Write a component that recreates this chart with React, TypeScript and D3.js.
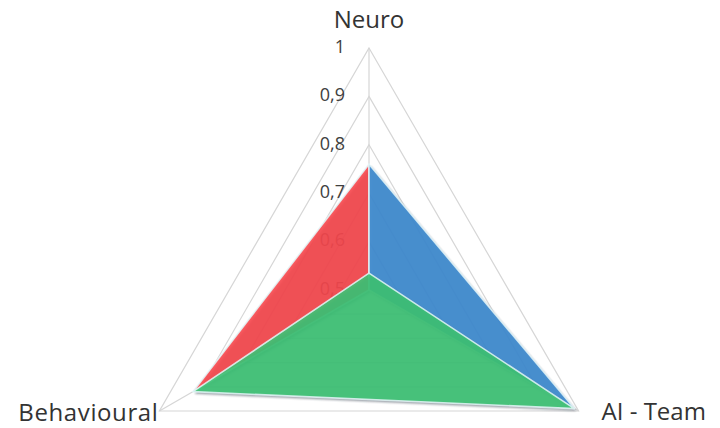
import React from "react";
import * as d3 from "d3";

const AXES = ["Neuro", "AI - Team", "Behavioural"];
const TICKS = [0.5, 0.6, 0.7, 0.8, 0.9, 1];
const TICK_LABELS = ["0,5", "0,6", "0,7", "0,8", "0,9", "1"];
const SERIES_NAMES = ["Series 1", "Series 2", "Series 3"];
const RED_VALUES = [0.76, 0.5, 0.92];
const BLUE_VALUES = [0.76, 0.99, 0.5];
const GREEN_VALUES = [0.535, 0.99, 0.92];
const SERIES_VALUES = [RED_VALUES, BLUE_VALUES, GREEN_VALUES];
const SERIES_COLORS = ["#f8474c", "#3e8cd1", "#3ec476"];

const W = 720;
const H = 428;
const CX = 369;
const CY = 290;
const R = 242;

export default function App() {
  const r = d3.scaleLinear().domain([0.5, 1]).range([0, R]);
  const angle = d3
    .scalePoint<string>()
    .domain(AXES)
    .range([0, (2 * Math.PI * (AXES.length - 1)) / AXES.length]);

  const radial = d3
    .lineRadial<number>()
    .angle((_, i) => angle(AXES[i]) as number)
    .radius((d) => r(Math.max(0.5, d)))
    .curve(d3.curveLinearClosed);

  const pt = (a: number, rad: number) => [
    CX + rad * Math.sin(a),
    CY - rad * Math.cos(a),
  ];

  const font = "'Open Sans', 'Noto Sans', sans-serif";

  return (
    <svg
      width={W}
      height={H}
      style={{ position: "absolute", left: 0, top: 0, background: "#fff" }}
    >
      <defs>
        <filter id="shadow" x="-20%" y="-20%" width="140%" height="140%">
          <feGaussianBlur stdDeviation="1.3" />
        </filter>
      </defs>
      <rect width={W} height={H} fill="#fff" />
      {/* grid */}
      <g transform={`translate(${CX},${CY})`}>
        {TICKS.slice(1).map((t) => (
          <path
            key={t}
            d={radial(AXES.map(() => t)) || ""}
            fill="none"
            stroke="#d6d6d6"
            strokeWidth={1.2}
          />
        ))}
        {AXES.map((a) => {
          const [x, y] = pt(angle(a) as number, r(1));
          return (
            <line
              key={a}
              x1={0}
              y1={0}
              x2={x - CX}
              y2={y - CY}
              stroke="#d6d6d6"
              strokeWidth={1.2}
            />
          );
        })}
      </g>
      {/* tick labels */}
      {TICKS.map((t, i) => (
        <text
          key={t}
          x={CX - 24}
          y={CY - r(t)}
          textAnchor="end"
          dominantBaseline="middle"
          fontFamily={font}
          fontSize={18}
          fill="#404040"
        >
          {TICK_LABELS[i]}
        </text>
      ))}
      {/* series */}
      <g transform={`translate(${CX},${CY})`}>
        {SERIES_VALUES.map((vals, si) => (
          <g key={SERIES_NAMES[si]}>
            <path
              d={radial(vals) || ""}
              transform="translate(1.8,2.2)"
              fill="#1e2a3a"
              opacity={0.45}
              filter="url(#shadow)"
            />
            <path
              d={radial(vals) || ""}
              fill={SERIES_COLORS[si]}
              fillOpacity={0.9}
              stroke="#e4f6f8"
              strokeWidth={1.6}
              strokeOpacity={0.85}
              strokeLinejoin="round"
            />
          </g>
        ))}
      </g>
      {/* axis labels */}
      <text
        x={pt(angle(AXES[0]) as number, r(1))[0]}
        y={pt(angle(AXES[0]) as number, r(1))[1] - 20}
        textAnchor="middle"
        fontFamily={font}
        fontSize={24}
        fill="#333"
      >
        {AXES[0]}
      </text>
      <text
        x={pt(angle(AXES[1]) as number, r(1))[0] + 23}
        y={pt(angle(AXES[1]) as number, r(1))[1] + 9}
        textAnchor="start"
        fontFamily={font}
        fontSize={24}
        fill="#333"
      >
        {AXES[1]}
      </text>
      <text
        x={pt(angle(AXES[2]) as number, r(1))[0] - 1}
        y={pt(angle(AXES[2]) as number, r(1))[1] + 10}
        textAnchor="end"
        fontFamily={font}
        fontSize={24}
        letterSpacing={0.6}
        fill="#333"
      >
        {AXES[2]}
      </text>
    </svg>
  );
}
